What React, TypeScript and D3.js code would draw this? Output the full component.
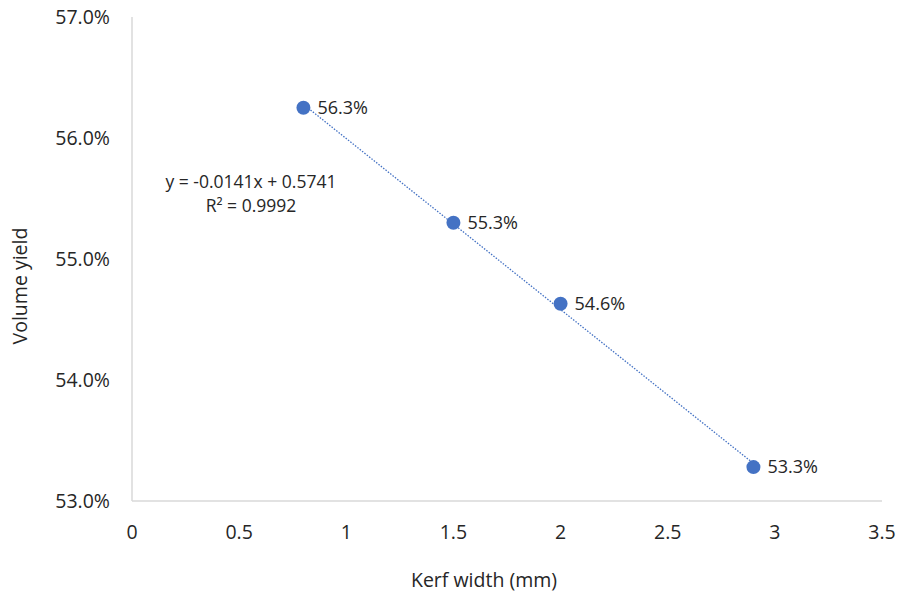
import React from "react";
import * as d3 from "d3";

const kerfWidths = [0.8, 1.5, 2.0, 2.9];
const volumeYields = [0.5625, 0.553, 0.5463, 0.5328];
const pointLabels = ["56.3%", "55.3%", "54.6%", "53.3%"];
const xTicks = [0, 0.5, 1, 1.5, 2, 2.5, 3, 3.5];
const yTicks = [0.53, 0.54, 0.55, 0.56, 0.57];
const equationLines = ["y = -0.0141x + 0.5741", "R² = 0.9992"];

const W = 897;
const H = 596;
const FONT = "'Open Sans', 'Noto Sans', sans-serif";
const BLUE = "#4472C4";
const TXT = "#262626";

export default function App() {
  const x = d3.scaleLinear().domain([0, 3.5]).range([132, 882]);
  const y = d3.scaleLinear().domain([0.53, 0.57]).range([501, 17]);
  const fmtY = d3.format(".1%");
  const fmtX = (v: number) => String(v);

  // least-squares trendline
  const xs = kerfWidths;
  const ys = volumeYields;
  const mx = d3.mean(xs)!;
  const my = d3.mean(ys)!;
  const slope =
    d3.sum(xs.map((v, i) => (v - mx) * (ys[i] - my))) /
    d3.sum(xs.map((v) => (v - mx) ** 2));
  const intercept = my - slope * mx;
  const x0 = d3.min(xs)!;
  const x1 = d3.max(xs)!;
  const line = d3.line<number>().x((v) => x(v)).y((v) => y(intercept + slope * v));

  return (
    <svg
      width={W}
      height={H}
      style={{ position: "absolute", left: 0, top: 0, background: "#fff" }}
      fontFamily={FONT}
    >
      <line x1={x(0)} x2={x(0)} y1={y(0.57)} y2={y(0.53)} stroke="#d9d9d9" strokeWidth={1.5} />
      <line x1={x(0)} x2={x(3.5)} y1={y(0.53)} y2={y(0.53)} stroke="#d9d9d9" strokeWidth={1.5} />

      {yTicks.map((t) => (
        <text key={t} x={110} y={y(t)} dy="0.35em" textAnchor="end" fontSize={19.5} fill={TXT}>
          {fmtY(t)}
        </text>
      ))}
      {xTicks.map((t) => (
        <text key={t} x={x(t)} y={532} dy="0.35em" textAnchor="middle" fontSize={19.5} fill={TXT}>
          {fmtX(t)}
        </text>
      ))}

      <text
        transform={`translate(20,286) rotate(-90)`}
        textAnchor="middle"
        dy="0.35em"
        fontSize={19.5}
        fill={TXT}
      >
        Volume yield
      </text>
      <text x={484} y={580} textAnchor="middle" dy="0.35em" fontSize={19.5} fill={TXT}>
        Kerf width (mm)
      </text>

      <path
        d={line([x0, x1]) || ""}
        fill="none"
        stroke={BLUE}
        strokeWidth={1.3}
        strokeDasharray="1.5 1.5"
      />

      {kerfWidths.map((k, i) => (
        <g key={k}>
          <circle cx={x(k)} cy={y(volumeYields[i])} r={7} fill={BLUE} />
          <text x={x(k) + 14} y={y(volumeYields[i])} dy="0.35em" fontSize={18} fill={TXT}>
            {pointLabels[i]}
          </text>
        </g>
      ))}

      <text x={251} y={188} textAnchor="middle" fontSize={17.5} fill={TXT}>
        {equationLines[0]}
      </text>
      <text x={251} y={212} textAnchor="middle" fontSize={17.5} fill={TXT}>
        {equationLines[1]}
      </text>
    </svg>
  );
}
